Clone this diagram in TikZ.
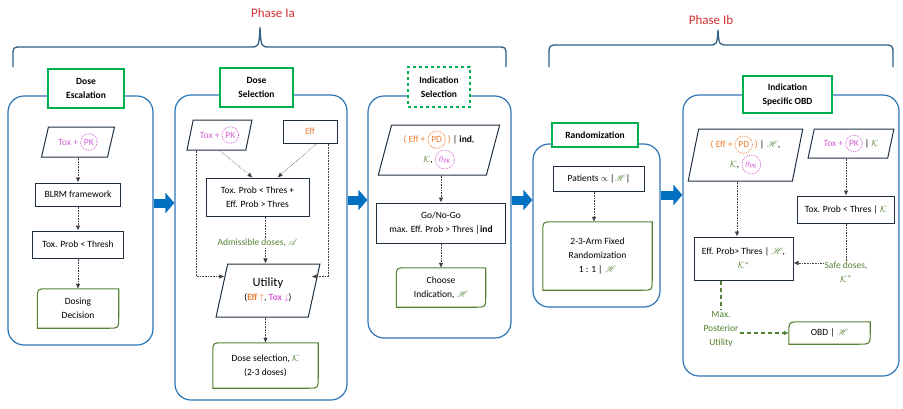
\documentclass[tikz,border=0pt]{standalone}
\usepackage{fontspec}
\setmainfont{Carlito}
\usepackage{amsmath, amssymb, mathrsfs}
\usetikzlibrary{shapes.geometric, arrows.meta, calc}

\definecolor{panelblue}{HTML}{2E75B6}
\definecolor{titlegreen}{HTML}{00B050}
\definecolor{outgreen}{HTML}{548235}
\definecolor{efforange}{HTML}{ED7D31}
\definecolor{toxpink}{HTML}{D55FD5}
\definecolor{boxnavy}{HTML}{1F2F3F}
\definecolor{phasered}{HTML}{D32F2F}
\definecolor{bracecol}{HTML}{2E6185}
\definecolor{arrowblue}{HTML}{0070C0}

% dotted ring round a word
\newcommand{\ring}[2][toxpink]{\tikz[baseline=(r.base)]\node[shape=circle, draw=#1, densely dotted,
  line width=0.8pt, inner sep=1.8pt, minimum width=0pt, minimum height=0pt] (r) {#2};}
% green box with two rounded corners
\newcommand{\drawoutbox}[2][10]{%
  \draw[draw=outgreen, line width=1.1pt] (#2.south west) -- ($(#2.north west)+(0,#1)$)
    .. controls (#2.north west) .. ($(#2.north west)+(#1,0)$) -- (#2.north east)
    -- ($(#2.south east)+(0,-#1)$) .. controls (#2.south east) .. ($(#2.south east)+(-#1,0)$) -- cycle;}
\newcommand{\Kset}{\textcolor{outgreen}{$\mathcal{K}$}}
\newcommand{\Hset}{\textcolor{outgreen}{$\mathscr{H}$}}

\begin{document}
\begin{tikzpicture}[x=1pt, y=-1pt,
    txt/.style={font=\fontsize{9.5}{14}\selectfont, align=center, inner sep=1pt},
    panel/.style={rectangle, rounded corners=16pt, draw=panelblue, line width=1.2pt},
    title/.style={rectangle, draw=titlegreen, line width=1.6pt, fill=white, align=center,
      font=\fontsize{9.5}{14}\selectfont\bfseries},
    box/.style={rectangle, draw=boxnavy, line width=1pt, txt},
    para/.style={trapezium, trapezium left angle=76, trapezium right angle=104,
      trapezium stretches=true, draw=boxnavy, line width=1pt, txt},
    outbox/.style={rectangle, txt},
    dotarrow/.style={densely dotted, line width=0.6pt, draw=black!75, -{Latex[length=5pt,width=4.5pt]}},
    dotline/.style={densely dotted, line width=0.6pt, draw=black!75},
    greendash/.style={dash pattern=on 4pt off 3pt, line width=1.4pt, draw=outgreen},
    phasearrow/.style={line width=9pt, draw=arrowblue, -{Triangle[length=9pt,width=20pt]}},
    brace/.style={draw=bracecol, line width=1.3pt},
    phase/.style={text=phasered, font=\fontsize{13}{15}\selectfont}]
    \useasboundingbox (0,0) rectangle (903,408);

    % Phase braces
    \draw[brace] (13,67) -- (13,56) .. controls (13,47) .. (22,47) -- (250,47)
      .. controls (259,47) .. (260,27) .. controls (261,47) .. (270,47) -- (497,47)
      .. controls (506,47) .. (506,56) -- (506,67);
    \draw[brace] (549,67) -- (549,55) .. controls (549,45) .. (559,45) -- (708,45)
      .. controls (717,45) .. (718,30) .. controls (719,45) .. (728,45) -- (883,45)
      .. controls (893,45) .. (893,55) -- (893,67);
    \node[phase] (phaseIa) at (273,13) {Phase Ia};
    \node[phase] (phaseIb) at (711,20) {Phase Ib};

    % Panels
    \node[panel, minimum width=145, minimum height=249] (escal) at (80.5,220.5) {};
    \node[panel, minimum width=172, minimum height=305] (select) at (261,247.5) {};
    \node[panel, minimum width=143, minimum height=242] (indic) at (439.5,217) {};
    \node[panel, minimum width=127, minimum height=163] (random) at (596.5,225.5) {};
    \node[panel, minimum width=216, minimum height=281] (specific) at (791,235.5) {};

    % Panel titles
    \node[title, minimum width=76, minimum height=39] (escalT) at (86,88.5) {Dose\\Escalation};
    \node[title, minimum width=73, minimum height=39] (selectT) at (256.5,87.5) {Dose\\Selection};
    \node[title, dashed, minimum width=62, minimum height=40] (indicT) at (439,87) {Indication\\Selection};
    \node[title, minimum width=86, minimum height=24] (randomT) at (595,135) {Randomization};
    \node[title, minimum width=89, minimum height=37] (specificT) at (787.5,94.5) {Indication\\Specific OBD};

    % Arrows between panels
    \draw[phasearrow] (escal.east |- 0,203) -- (select.west |- 0,203);
    \draw[phasearrow] (select.east |- 0,200) -- (indic.west |- 0,200);
    \draw[phasearrow] (indic.east |- 0,200) -- (random.west |- 0,200);
    \draw[phasearrow] (random.east |- 0,195) -- (specific.west |- 0,195);

    % Dose escalation
    \node[para, minimum width=73, minimum height=30] (escIn) at (78,142)
      {\color{toxpink}Tox + \ring{PK}};
    \node[box, minimum width=85, minimum height=23] (blrm) at (78,194.5) {BLRM framework};
    \node[box, minimum width=91, minimum height=27] (escTox) at (78,244.5) {Tox. Prob < Thresh};
    \node[outbox, minimum width=81, minimum height=39] (dosing) at (78,308.5) {Dosing\\Decision};
    \drawoutbox{dosing}
    \draw[dotarrow] (escIn.south -| blrm.north) -- (blrm.north);
    \draw[dotarrow] (blrm) -- (escTox);
    \draw[dotarrow] (escTox) -- (dosing);

    % Dose selection
    \node[para, minimum width=65, minimum height=30] (selIn) at (219.5,135)
      {\color{toxpink}Tox + \ring{PK}};
    \node[box, minimum width=54, minimum height=23] (selEff) at (310,131.5) {\color{efforange}Eff};
    \node[box, minimum width=103, minimum height=38] (selThres) at (257.5,197)
      {Tox. Prob < Thres +\\Eff. Prob > Thres};
    \node[txt, text=outgreen] (admiss) at (257.5,243) {Admissible doses, $\mathscr{A}$};
    \node[para, trapezium left angle=75, trapezium right angle=105, minimum width=104,
      minimum height=53] (utility) at (268,290.5)
      {{\fontsize{12.5}{14}\selectfont Utility}\\({\bfseries\color{efforange}Eff $\uparrow$}, {\bfseries\color{toxpink}Tox $\downarrow$})};
    \node[outbox, minimum width=105, minimum height=45] (doseSel) at (265.5,365.5)
      {Dose selection, \Kset\\(2-3 doses)};
    \drawoutbox{doseSel}
    \draw[dotarrow] (selIn.south) -- ($(selThres.north)+(-5,0)$);
    \draw[dotarrow] ($(selEff.south)+(7,0)$) -- ($(selThres.north)+(20,0)$);
    \draw[dotarrow] ($(selIn.bottom left corner)+(10,0)$) |- ($(utility.west)+(3,-14)$);
    \draw[dotarrow] ($(selEff.south east)+(-9,0)$) |- ($(utility.east)+(-3,-14)$);
    \draw[dotline] ($(selThres.south)+(8,0)$) -- ($(admiss.north)+(8,0)$);
    \draw[dotarrow] ($(admiss.south)+(8,0)$) -- (utility.north -| doseSel.north);
    \draw[dotarrow] (utility.south -| doseSel.north) -- (doseSel.north);

    % Indication selection
    \node[para, minimum width=122, minimum height=50] (indIn) at (439,150)
      {{\color{efforange}( Eff + \ring[efforange]{PD} )} | \textbf{ind},\\\Kset, \ring{\color{toxpink}$\theta_{\mathrm{PK}}$}};
    \node[box, minimum width=129, minimum height=40] (gonogo) at (441,223)
      {Go/No-Go\\max. Eff. Prob > Thres |\textbf{ind}};
    \node[outbox, minimum width=89, minimum height=39] (choose) at (441,287.5)
      {Choose\\Indication, \Hset};
    \drawoutbox{choose}
    \draw[dotarrow] (indIn.south -| gonogo.north) -- (gonogo.north);
    \draw[dotarrow] (gonogo) -- (choose);

    % Randomization
    \node[box, minimum width=91, minimum height=25] (patients) at (599,178.5)
      {Patients $\propto$ |\Hset|};
    \node[outbox, minimum width=109, minimum height=68] (arms) at (597.5,256)
      {2-3-Arm Fixed\\Randomization\\1 : 1 | \Hset};
    \drawoutbox{arms}
    \draw[dotarrow] (patients.south -| 594,0) -- (arms.north -| 594,0);

    % Indication specific OBD
    \node[para, trapezium left angle=79, trapezium right angle=101, minimum width=115,
      minimum height=52] (specIn) at (745.5,155)
      {{\color{efforange}( Eff + \ring[efforange]{PD} )} | \Hset,\\\Kset, \ring{\color{toxpink}$\theta_{\mathrm{PK}}$}};
    \node[para, minimum width=86, minimum height=29] (specTox) at (851,143.5)
      {{\color{toxpink}Tox + \ring{PK}} | \Kset};
    \node[box, minimum width=97, minimum height=27] (toxThres) at (846,209.5)
      {Tox. Prob < Thres | \Kset};
    \node[box, minimum width=99, minimum height=43] (effThres) at (743.5,258.5)
      {Eff. Prob> Thres | \Hset,\\\textcolor{outgreen}{$\mathcal{K}^{*}$}};
    \node[txt, text=outgreen] (safe) at (846,272) {Safe doses,\\$\mathcal{K}^{*}$};
    \node[txt, text=outgreen] (maxUtil) at (721,329) {Max.\\Posterior\\Utility};
    \node[outbox, minimum width=81, minimum height=22] (obd) at (829.5,333) {OBD | \Hset};
    \drawoutbox[12]{obd}
    \draw[dotarrow] (specIn.south -| 737,0) -- (effThres.north -| 737,0);
    \draw[dotarrow] (specTox.south -| toxThres.north) -- (toxThres.north);
    \draw[dotline] (toxThres.south) -- (safe.north);
    \draw[dotarrow] (safe.west |- 0,263) -- (effThres.east |- 0,263);
    \draw[greendash] (effThres.south -| maxUtil.north) -- (maxUtil.north);
    \draw[greendash, -{Latex[length=5pt,width=5pt]}] (maxUtil.east |- obd.west) -- (obd.west);
\end{tikzpicture}
\end{document}
